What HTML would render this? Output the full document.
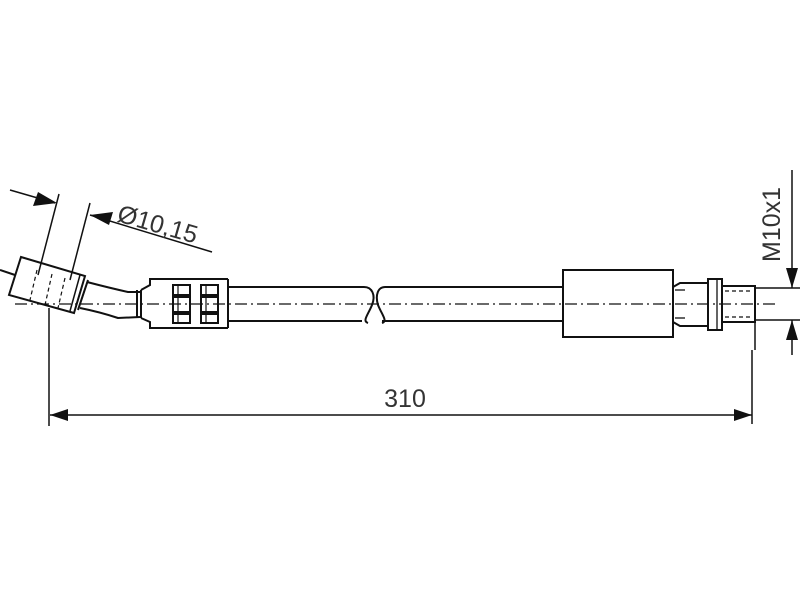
<!DOCTYPE html>
<html><head><meta charset="utf-8"><style>html,body{margin:0;background:#fff}svg{display:block}</style></head>
<body>
<svg width="800" height="600" viewBox="0 0 800 600" xmlns="http://www.w3.org/2000/svg" font-family="Liberation Sans, sans-serif">
<g stroke="#111" stroke-width="2" fill="none">
<line x1="15" y1="304" x2="775" y2="304" stroke-width="1.3" stroke-dasharray="12,4,2,4"/>
<polygon points="21,257 85,276 74,313 9,295" fill="none"/>
<line x1="80" y1="275" x2="70" y2="311" stroke-width="1.5"/>
<line x1="0" y1="270" x2="15" y2="275" />
<line x1="37" y1="270" x2="30" y2="300" stroke-width="1.2" stroke-dasharray="4,3"/>
<line x1="52" y1="274" x2="45" y2="305" stroke-width="1.2" stroke-dasharray="4,3"/>
<line x1="65" y1="278" x2="58" y2="308" stroke-width="1.2" stroke-dasharray="4,3"/>
<path d="M87,282 Q110,288 128,292 L140,292"/>
<path d="M80,308 Q100,312 118,318 L140,317"/>
<line x1="88" y1="280" x2="78" y2="310"/>
<line x1="137" y1="290" x2="137" y2="318"/>
<line x1="141" y1="290" x2="141" y2="318"/>
<path d="M141,290 L150,285 L150,279 L228,279"/>
<path d="M141,318 L150,322 L150,328 L228,328"/>
<line x1="228" y1="279" x2="228" y2="328"/>
<rect x="173" y="285" width="17" height="38"/>
<rect x="201" y="285" width="17" height="38"/>
<line x1="173" y1="296" x2="190" y2="296" stroke-width="4"/>
<line x1="173" y1="313" x2="190" y2="313" stroke-width="4"/>
<line x1="201" y1="296" x2="218" y2="296" stroke-width="4"/>
<line x1="201" y1="313" x2="218" y2="313" stroke-width="4"/>
<line x1="178" y1="285" x2="178" y2="323" stroke-width="1.2"/>
<line x1="206" y1="285" x2="206" y2="323" stroke-width="1.2"/>
<path d="M228,287 L364,287 M228,321 L362,321"/>
<path d="M364,287 C372,287 376,295 372,305 C368,315 362,321 368,323"/>
<path d="M385,287 C378,287 375,295 378,305 C382,315 388,321 382,323"/>
<path d="M385,287 L562,287 M382,321 L562,321"/>
<rect x="563" y="270" width="110" height="67"/>
<path d="M673,287 L680,283 L708,283 M673,322 L680,326 L708,326"/>
<line x1="675" y1="290" x2="685" y2="290" stroke-width="1.3"/>
<line x1="675" y1="318" x2="685" y2="318" stroke-width="1.3"/>
<rect x="708" y="279" width="14" height="51"/>
<line x1="717" y1="279" x2="717" y2="330" stroke-width="1.3"/>
<rect x="722" y="286" width="33" height="36"/>
<line x1="725" y1="291" x2="752" y2="291" stroke-width="1.2" stroke-dasharray="4,3"/>
<line x1="725" y1="317" x2="752" y2="317" stroke-width="1.2" stroke-dasharray="4,3"/>
<line x1="755" y1="288" x2="800" y2="288" stroke-width="1.5"/>
<line x1="755" y1="320" x2="800" y2="320" stroke-width="1.5"/>
<line x1="755" y1="322" x2="755" y2="350" stroke-width="1.5"/>
<line x1="792" y1="170" x2="792" y2="288" stroke-width="1.5"/>
<line x1="792" y1="320" x2="792" y2="355" stroke-width="1.5"/>
<line x1="49" y1="308" x2="49" y2="426" stroke-width="1.5"/>
<line x1="752" y1="350" x2="752" y2="424" stroke-width="1.5"/>
<line x1="50" y1="415" x2="752" y2="415" stroke-width="1.5"/>
<line x1="59" y1="194" x2="38" y2="275" stroke-width="1.5"/>
<line x1="90" y1="203" x2="70" y2="280" stroke-width="1.5"/>
<line x1="10" y1="190" x2="55" y2="203" stroke-width="1.5"/>
<line x1="90" y1="215" x2="212" y2="252" stroke-width="1.5"/>
</g>
<g fill="#111">
<polygon points="57,203 33,206 38,192"/>
<polygon points="90,215 113,212 109,225"/>
<polygon points="50,415 68,409 68,421"/>
<polygon points="752,415 734,409 734,421"/>
<polygon points="792,288 786,268 798,268"/>
<polygon points="792,320 786,340 798,340"/>
</g>
<g fill="#333">
<text x="405" y="407" font-size="25" text-anchor="middle">310</text>
<text x="0" y="0" font-size="25" transform="translate(116,221) rotate(16)">Ø10,15</text>
<text x="0" y="0" font-size="25" transform="translate(780,262) rotate(-90)">M10x1</text>
</g>
</svg>
</body></html>
